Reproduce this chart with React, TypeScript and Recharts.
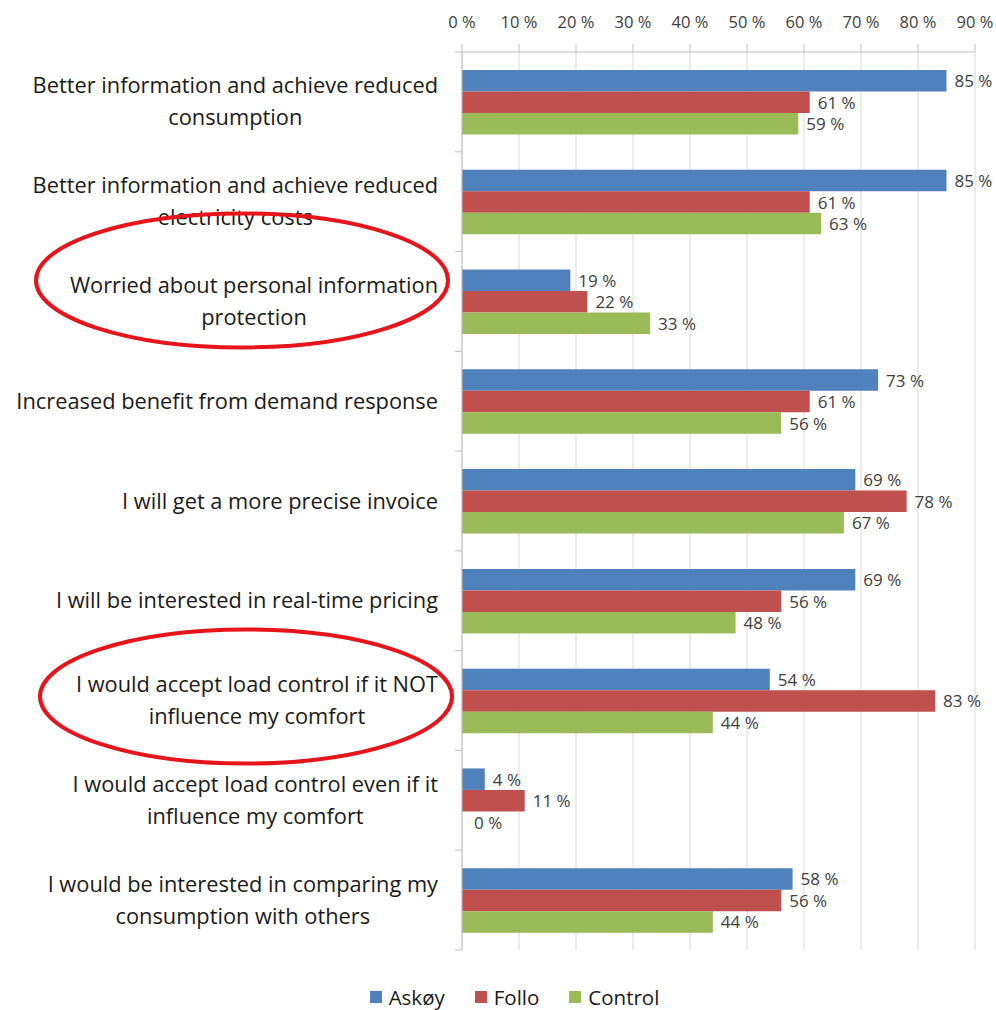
import React from 'react';
import { BarChart, Bar, XAxis, YAxis, CartesianGrid, Legend, LabelList } from 'recharts';

const categories = [
  'Better information and achieve reduced\nconsumption',
  'Better information and achieve reduced\nelectricity costs',
  'Worried about personal information\nprotection',
  'Increased benefit from demand response',
  'I will get a more precise invoice',
  'I will be interested in real-time pricing',
  'I would accept load control if it NOT\ninfluence my comfort',
  'I would accept load control even if it\ninfluence my comfort',
  'I would be interested in comparing my\nconsumption with others',
];
const askoy = [85, 85, 19, 73, 69, 69, 54, 4, 58];
const follo = [61, 61, 22, 61, 78, 56, 83, 11, 56];
const control = [59, 63, 33, 56, 67, 48, 44, 0, 44];
const xTicks = [0, 10, 20, 30, 40, 50, 60, 70, 80, 90];
const seriesNames = ['Askøy', 'Follo', 'Control'];
// highlighted categories (hand-drawn red ellipse): nudges relative to the tick
const highlighted: Record<number, { dx: number; dy: number }> = {
  2: { dx: -196, dy: -21 },
  6: { dx: -192, dy: -4 },
};

const COLORS = ['#4F81BD', '#C0504D', '#9BBB59'];
const FONT = '"Open Sans", sans-serif';
const LABEL_SIZE = 21.8;
const VALUE_SIZE = 17;

const data = categories.map((name, i) => ({
  name,
  askoy: askoy[i],
  follo: follo[i],
  control: control[i],
}));

let ctx: CanvasRenderingContext2D | null = null;
function measure(text: string): number {
  if (!ctx) {
    const c = document.createElement('canvas');
    ctx = c.getContext('2d');
  }
  if (!ctx) return text.length * LABEL_SIZE * 0.55;
  ctx.font = `${LABEL_SIZE}px "Open Sans"`;
  return ctx.measureText(text).width;
}

const BAND_HALF = 49.9;

const CategoryTick = (props: any) => {
  const { x, y, payload, index } = props;
  const lines = String(payload.value).split('\n');
  const w = Math.max(...lines.map(measure));
  const cx = x - w / 2;
  const lh = 32;
  const startY = y - ((lines.length - 1) * lh) / 2 - 1;
  const ring = highlighted[index];
  return (
    <g>
      <line x1={x + 17} x2={x + 24} y1={y - BAND_HALF} y2={y - BAND_HALF} stroke="#bfbfbf" />
      {index === categories.length - 1 && (
        <line x1={x + 17} x2={x + 24} y1={y + BAND_HALF} y2={y + BAND_HALF} stroke="#bfbfbf" />
      )}
      <text textAnchor="middle" fill="#1a1a1a" fontSize={LABEL_SIZE} fontFamily={FONT}>
        {lines.map((l, i) => (
          <tspan key={i} x={cx} y={startY + i * lh} dominantBaseline="central">
            {l}
          </tspan>
        ))}
      </text>
      {ring !== undefined && (
        <ellipse cx={x + ring.dx} cy={y + ring.dy} rx={206} ry={67} fill="none" stroke="#e8141b" strokeWidth={4} />
      )}
    </g>
  );
};

const renderLegend = () => (
  <div
    style={{
      display: 'flex',
      justifyContent: 'center',
      alignItems: 'center',
      paddingTop: 36,
      paddingLeft: 84,
      fontFamily: FONT,
      fontSize: 20.5,
      color: '#1a1a1a',
      lineHeight: '22px',
    }}
  >
    {seriesNames.map((n, i) => (
      <span key={n} style={{ display: 'inline-flex', alignItems: 'center', marginRight: 30 }}>
        <span style={{ width: 12, height: 12, background: COLORS[i], display: 'inline-block', marginRight: 7 }} />
        {n}
      </span>
    ))}
  </div>
);

const fmt = (v: any) => `${v} %`;

const labelText = (x: number, y: number, value: any, key?: string) => (
  <text
    key={key}
    x={x}
    y={y}
    dominantBaseline="central"
    fill="#404040"
    fontSize={VALUE_SIZE}
    fontFamily={FONT}
  >
    {fmt(value)}
  </text>
);

const ValueLabel = (props: any) => {
  const { x, y, width, height, value } = props;
  return labelText(Number(x) + Number(width) + 8, Number(y) + Number(height) / 2, value);
};

// Follo labels; also draws the label of a zero-length Control bar just below,
// since the library skips marks of zero length.
const FolloLabel = (props: any) => {
  const { x, y, width, height, value, index } = props;
  const h = Number(height);
  const own = labelText(Number(x) + Number(width) + 8, Number(y) + h / 2, value, 'own');
  if (control[index] === 0) {
    return (
      <g>
        {own}
        {labelText(Number(x) + 12, Number(y) + h * 1.5, control[index], 'zero')}
      </g>
    );
  }
  return own;
};

export default function App() {
  return (
    <div style={{ position: 'absolute', left: 0, top: 0, background: '#fff' }}>
      <BarChart
        width={996}
        height={1010}
        data={data}
        layout="vertical"
        margin={{ top: 0, right: 21, left: 0, bottom: 0 }}
        barGap={0}
        barSize={21.5}
      >
        <CartesianGrid horizontal={false} stroke="#d9d9d9" />
        <XAxis
          type="number"
          orientation="top"
          domain={[0, 90]}
          ticks={xTicks}
          tickFormatter={fmt}
          height={52}
          axisLine={{ stroke: '#bfbfbf' }}
          tickLine={{ stroke: '#bfbfbf' }}
          tickSize={8}
          tickMargin={16}
          tick={{ fill: '#404040', fontSize: 16.5, fontFamily: FONT }}
          interval={0}
        />
        <YAxis
          type="category"
          dataKey="name"
          width={462}
          axisLine={{ stroke: '#bfbfbf' }}
          tickLine={false}
          tickSize={0}
          tickMargin={24}
          interval={0}
          tick={<CategoryTick />}
        />
        <Legend verticalAlign="bottom" height={60} content={renderLegend} />
        <Bar dataKey="askoy" name="Askøy" fill={COLORS[0]} isAnimationActive={false}>
          <LabelList dataKey="askoy" content={<ValueLabel />} />
        </Bar>
        <Bar dataKey="follo" name="Follo" fill={COLORS[1]} isAnimationActive={false}>
          <LabelList dataKey="follo" content={<FolloLabel />} />
        </Bar>
        <Bar dataKey="control" name="Control" fill={COLORS[2]} isAnimationActive={false}>
          <LabelList dataKey="control" content={<ValueLabel />} />
        </Bar>
      </BarChart>
    </div>
  );
}
